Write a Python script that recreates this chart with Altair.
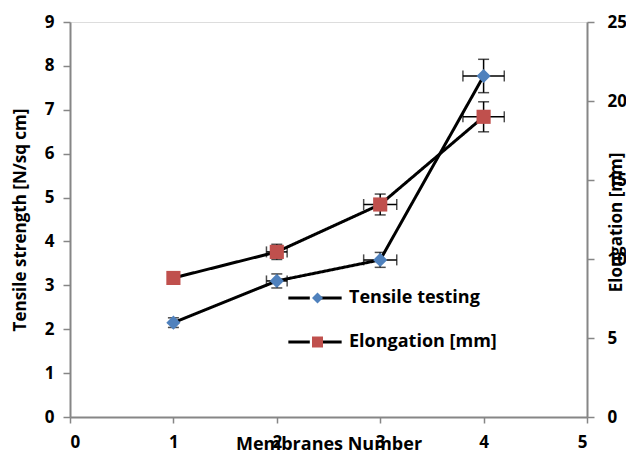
import altair as alt
import pandas as pd

# ---- data ----
membranes = [1, 2, 3, 4]
tensile = [2.15, 3.10, 3.58, 7.77]
tensile_yerr = [0.11, 0.16, 0.17, 0.38]
tensile_xerr = [0.0, 0.10, 0.16, 0.20]
elongation = [8.8, 10.45, 13.45, 19.0]
elongation_yerr = [0.0, 0.48, 0.66, 0.95]
elongation_xerr = [0.0, 0.10, 0.16, 0.20]
series_names = ["Tensile testing", "Elongation [mm]"]
marker_codes = ["tensile", "elongation"]
series_colors = ["#4F81BD", "#C0504D"]
series_shapes = ["diamond", "square"]
left_ticks = [0, 1, 2, 3, 4, 5, 6, 7, 8, 9]
right_ticks = [0, 5, 10, 15, 20, 25]
x_ticks = [0, 1, 2, 3, 4, 5]


def frame(vals, yerr, xerr, name, code):
    return pd.DataFrame({
        "x": membranes,
        "y": vals,
        "ylo": [v - e for v, e in zip(vals, yerr)],
        "yhi": [v + e for v, e in zip(vals, yerr)],
        "xlo": [m - e for m, e in zip(membranes, xerr)],
        "xhi": [m + e for m, e in zip(membranes, xerr)],
        "yerr": yerr,
        "xerr": xerr,
        "series": name,
        "code": code,
    })


df_t = frame(tensile, tensile_yerr, tensile_xerr, series_names[0], marker_codes[0])
df_e = frame(elongation, elongation_yerr, elongation_xerr, series_names[1], marker_codes[1])

FONT = "Open Sans"
GREY = "#868686"

x_axis = alt.Axis(values=x_ticks, title="Membranes Number", grid=False,
                  labelFontSize=17, labelFontWeight="bold", labelPadding=11,
                  labelFont=FONT, labelColor="black",
                  titleFont=FONT, titleFontSize=18, titleFontWeight="bold",
                  titleX=258.5, titleY=27.5, titleBaseline="middle", titleColor="black",
                  tickSize=6, tickColor=GREY, tickWidth=1.5,
                  domainColor=GREY, domainWidth=2)
x_scale = alt.Scale(domain=[0, 5], nice=False, zero=False)

left_axis = alt.Axis(values=left_ticks, title="Tensile strength [N/sq cm]", grid=False,
                     labelFontSize=17, labelFontWeight="bold", labelPadding=9,
                     labelFont=FONT, labelColor="black",
                     titleFont=FONT, titleFontSize=17, titleFontWeight="bold",
                     titleAngle=270, titleX=-50, titleY=197.5, titleAlign="center",
                     titleBaseline="middle", titleColor="black",
                     tickSize=7, tickColor=GREY, tickWidth=1.5,
                     domainColor=GREY, domainWidth=2)
left_scale = alt.Scale(domain=[0, 9], nice=False)

right_axis = alt.Axis(values=right_ticks, title="Elongation [mm]", orient="right", grid=False,
                      labelFontSize=17, labelFontWeight="bold", labelPadding=13,
                      labelFont=FONT, labelColor="black",
                      titleFont=FONT, titleFontSize=17, titleFontWeight="bold",
                      titleAngle=270, titleX=29, titleY=200, titleAlign="center",
                      titleBaseline="middle", titleColor="black",
                      tickSize=7, tickColor=GREY, tickWidth=1.5,
                      domainColor=GREY, domainWidth=2)
right_scale = alt.Scale(domain=[0, 25], nice=False)

line_legend = alt.Legend(orient="none", legendX=236, legendY=267, title=None,
                         symbolType="M-4.1,0H-0.8M0.8,0H4.1", symbolSize=169,
                         symbolStrokeColor="black", symbolStrokeWidth=3,
                         symbolFillColor="transparent",
                         labelFont=FONT, labelFontSize=18, labelFontWeight="bold",
                         labelColor="black", labelOffset=25, rowPadding=26, padding=0)
marker_legend = alt.Legend(orient="none", legendX=238.5, legendY=267, title=None,
                           symbolSize=121, symbolStrokeWidth=0, symbolOpacity=1,
                           labelFont=FONT, labelFontSize=18, labelOpacity=0,
                           rowPadding=26, padding=0)

dash_scale = alt.Scale(domain=series_names, range=[[1, 0], [1, 0]])
color_scale = alt.Scale(domain=marker_codes, range=series_colors)
shape_scale = alt.Scale(domain=marker_codes, range=series_shapes)


def series_layer(df, yscale, yaxis):
    X = alt.X("x:Q", scale=x_scale, axis=x_axis)
    Y = alt.Y("y:Q", scale=yscale, axis=yaxis)
    base = alt.Chart(df)
    line = base.mark_line(color="black", strokeWidth=3).encode(
        x=X, y=Y,
        strokeDash=alt.StrokeDash("series:N", scale=dash_scale, legend=line_legend))
    ydf = base.transform_filter("datum.yerr > 0")
    xdf = base.transform_filter("datum.xerr > 0")
    vrule = ydf.mark_rule(color="black", strokeWidth=1.5).encode(
        x=X, y=alt.Y("ylo:Q", scale=yscale, axis=yaxis), y2="yhi:Q")
    vcap_lo = ydf.mark_tick(orient="horizontal", color="black", size=11, thickness=1.5).encode(
        x=X, y=alt.Y("ylo:Q", scale=yscale, axis=yaxis))
    vcap_hi = ydf.mark_tick(orient="horizontal", color="black", size=11, thickness=1.5).encode(
        x=X, y=alt.Y("yhi:Q", scale=yscale, axis=yaxis))
    hrule = xdf.mark_rule(color="black", strokeWidth=1.5).encode(
        x=alt.X("xlo:Q", scale=x_scale, axis=x_axis), x2="xhi:Q", y=Y)
    hcap_lo = xdf.mark_tick(orient="vertical", color="black", size=11, thickness=1.5).encode(
        x=alt.X("xlo:Q", scale=x_scale, axis=x_axis), y=Y)
    hcap_hi = xdf.mark_tick(orient="vertical", color="black", size=11, thickness=1.5).encode(
        x=alt.X("xhi:Q", scale=x_scale, axis=x_axis), y=Y)
    pts = base.mark_point(filled=True, size=200, opacity=1, strokeWidth=0).encode(
        x=X, y=Y,
        color=alt.Color("code:N", scale=color_scale, legend=marker_legend),
        shape=alt.Shape("code:N", scale=shape_scale, legend=marker_legend))
    return alt.layer(line, vrule, vcap_lo, vcap_hi, hrule, hcap_lo, hcap_hi, pts)


left = series_layer(df_t, left_scale, left_axis)
right = series_layer(df_e, right_scale, right_axis)

chart = alt.layer(left, right).resolve_scale(y="independent").properties(
    width=517, height=395,
    autosize=alt.AutoSizeParams(type="none"),
    padding={"left": 62, "top": 14, "right": 39, "bottom": 37},
).configure_view(stroke="black", strokeWidth=2).configure(background="white")

chart.save("out.html", embed_options={"renderer": "svg", "actions": False})
